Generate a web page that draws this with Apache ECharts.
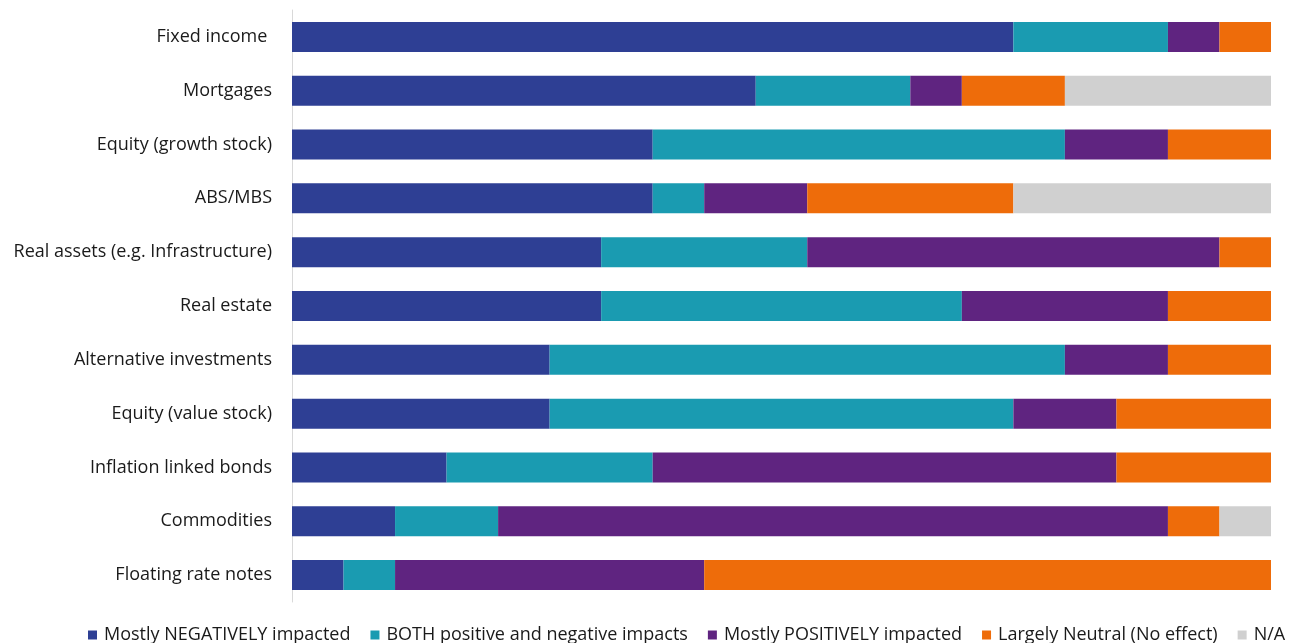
<!DOCTYPE html>
<html>
<head>
<meta charset="utf-8">
<script src="https://cdn.jsdelivr.net/npm/echarts@6/dist/echarts.min.js"></script>
<style>
  html, body { margin: 0; padding: 0; background: #fff; }
  #chart { width: 1296px; height: 643px; }
</style>
</head>
<body>
<div id="chart"></div>
<script>
// Asset classes, top to bottom
const categories = [
  'Fixed income ',
  'Mortgages',
  'Equity (growth stock)',
  'ABS/MBS',
  'Real assets (e.g. Infrastructure)',
  'Real estate',
  'Alternative investments',
  'Equity (value stock)',
  'Inflation linked bonds',
  'Commodities',
  'Floating rate notes'
];

// Number of respondents per answer (19 per asset class)
const mostlyNegative = [14, 9, 7, 7, 6, 6, 5, 5, 3, 2, 1];
const bothImpacts    = [3, 3, 8, 1, 4, 7, 10, 9, 4, 2, 1];
const mostlyPositive = [1, 1, 2, 2, 8, 4, 2, 2, 9, 13, 6];
const largelyNeutral = [1, 2, 2, 4, 1, 2, 2, 3, 3, 1, 11];
const notApplicable  = [0, 4, 0, 5, 0, 0, 0, 0, 0, 1, 0];

const seriesDefs = [
  { name: 'Mostly NEGATIVELY impacted', data: mostlyNegative, color: '#2E3F94' },
  { name: 'BOTH positive and negative impacts', data: bothImpacts, color: '#1A9BB1' },
  { name: 'Mostly POSITIVELY impacted', data: mostlyPositive, color: '#5F2480' },
  { name: 'Largely Neutral (No effect)', data: largelyNeutral, color: '#EE6C0A' },
  { name: 'N/A', data: notApplicable, color: '#D0D0D0' }
];

const totals = categories.map((_, i) =>
  seriesDefs.reduce((s, d) => s + d.data[i], 0));
const maxTotal = Math.max(...totals);

const font = '"Open Sans", sans-serif';
const chart = echarts.init(document.getElementById('chart'));
chart.setOption({
  animation: false,
  textStyle: { fontFamily: font },
  grid: { left: 292, right: 25, top: 10, bottom: 41, containLabel: false },
  legend: {
    top: 621,
    left: 83,
    padding: 5,
    itemWidth: 9,
    itemHeight: 9,
    itemGap: 20,
    icon: 'rect',
    textStyle: { fontFamily: font, fontSize: 18, color: '#1a1a1a', padding: [0, 0, 0, 2] },
    data: seriesDefs.map(d => d.name)
  },
  xAxis: {
    type: 'value',
    min: 0,
    max: maxTotal,
    show: false
  },
  yAxis: {
    type: 'category',
    inverse: true,
    data: categories,
    axisLine: { show: true, lineStyle: { color: '#D9D9D9', width: 1 } },
    axisTick: { show: false },
    axisLabel: { fontFamily: font, fontSize: 18, color: '#1a1a1a', margin: 20, padding: [2, 0, 0, 0] }
  },
  series: seriesDefs.map(d => ({
    name: d.name,
    type: 'bar',
    stack: 'total',
    barWidth: 30,
    data: d.data,
    itemStyle: { color: d.color },
    emphasis: { disabled: true }
  }))
});
</script>
</body>
</html>
